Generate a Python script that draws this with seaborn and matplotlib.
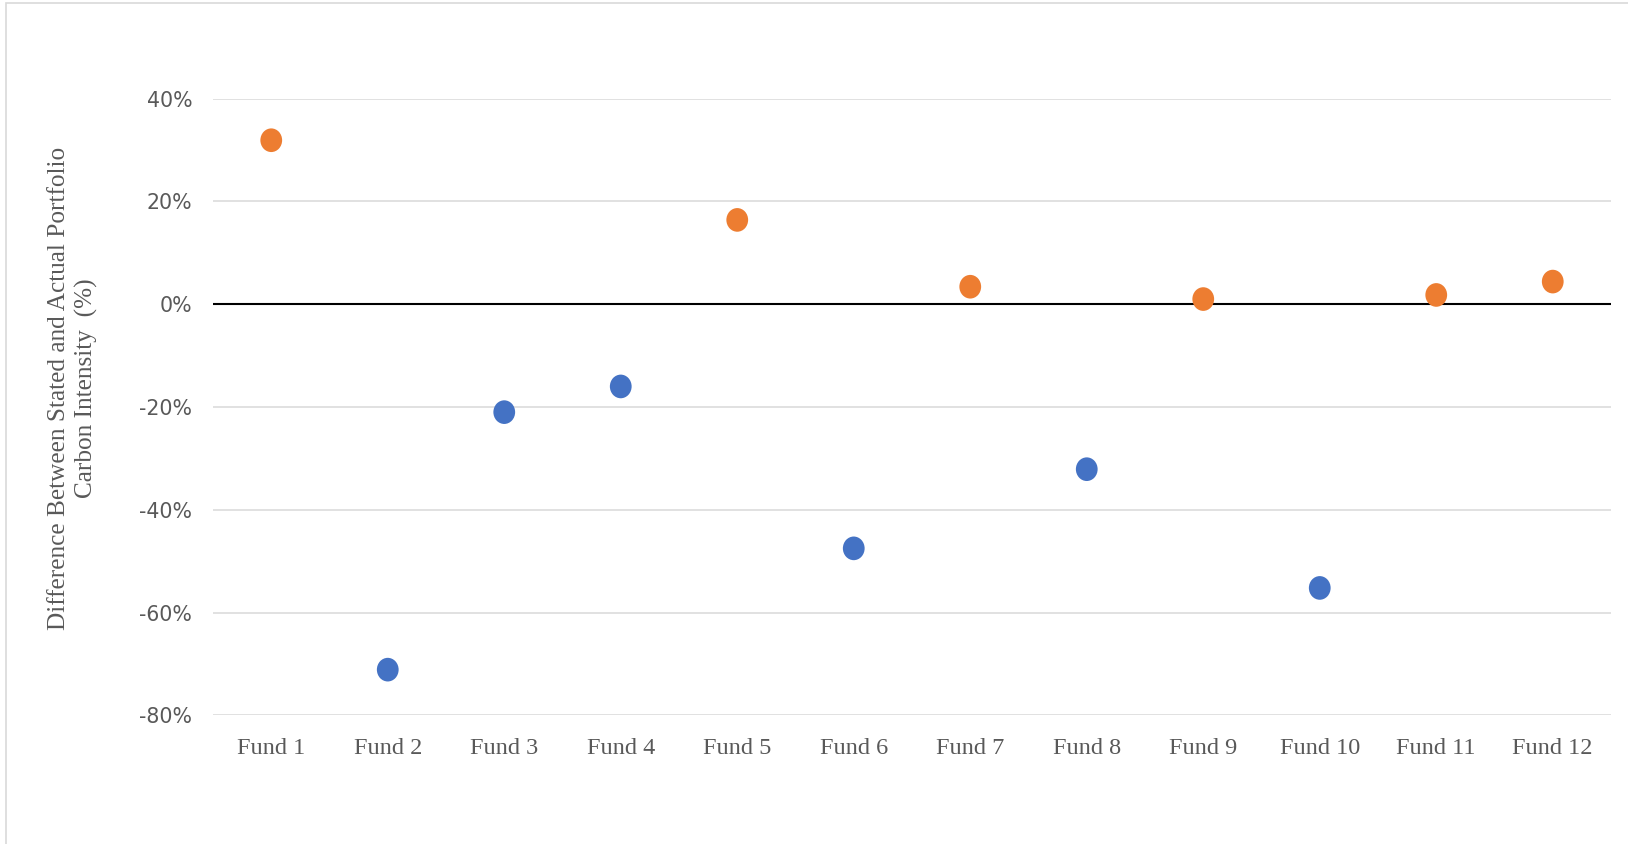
import numpy as np
import pandas as pd
import matplotlib
matplotlib.use("Agg")
import matplotlib.pyplot as plt
from matplotlib.patches import Rectangle
from matplotlib.path import Path
from matplotlib.transforms import Affine2D
import seaborn as sns

# Fund labels and difference between stated and actual carbon intensity (%)
funds = ["Fund 1", "Fund 2", "Fund 3", "Fund 4", "Fund 5", "Fund 6",
         "Fund 7", "Fund 8", "Fund 9", "Fund 10", "Fund 11", "Fund 12"]
difference = [31.9, -71.1, -21.0, -16.0, 16.4, -47.5,
              3.4, -32.1, 1.0, -55.2, 1.8, 4.4]
y_ticks = [-80, -60, -40, -20, 0, 20, 40]

df = pd.DataFrame({"fund": funds, "diff": difference})
df["sign"] = np.where(df["diff"] >= 0, "over", "under")

sns.set_theme(style="white")
plt.rcParams["font.family"] = ["DejaVu Sans"]

W, H, DPI = 1628, 844, 100
fig = plt.figure(figsize=(W / DPI, H / DPI), dpi=DPI)
ax = fig.add_axes([213 / W, 1 - 715.4 / H, (1611 - 213) / W, (715.4 - 98.6) / H])

# slightly tall elliptical dot
dot = Path.unit_circle().transformed(Affine2D().scale(0.92, 1.0))

sns.scatterplot(data=df, x="fund", y="diff", hue="sign",
                palette={"over": "#ED7D31", "under": "#4472C4"},
                marker=dot, s=290, linewidth=0, legend=False, ax=ax, zorder=3)

ax.set_xlim(-0.5, len(funds) - 0.5)
ax.set_ylim(-80, 40)
ax.set_yticks(y_ticks)
ax.set_yticklabels([f"{v}%" for v in y_ticks])
ax.yaxis.grid(True, color="#D9D9D9", linewidth=1.1)
ax.xaxis.grid(False)
ax.axhline(0, color="black", linewidth=1.5, zorder=2)
for sp in ax.spines.values():
    sp.set_visible(False)
ax.set_xlabel("")
ax.set_ylabel("")
ax.tick_params(axis="y", length=0, pad=15, labelsize=14.8, labelcolor="#595959")
ax.tick_params(axis="x", length=0, pad=16, labelsize=17.5, labelcolor="#595959")
for lab in ax.get_xticklabels():
    lab.set_family("Liberation Serif")

fig.text(73 / W, 1 - 388 / H,
         "Difference Between Stated and Actual Portfolio\nCarbon Intensity  (%)",
         rotation=90, ha="center", va="center", multialignment="center",
         family="Liberation Serif", fontsize=18.2, linespacing=1.3,
         color="#595959")

# chart area border
fig.patches.append(Rectangle((6 / W, -0.05), 1.1, 1 - 3 / H + 0.05,
                             transform=fig.transFigure, fill=False,
                             edgecolor="#D9D9D9", linewidth=1.2))

fig.savefig("out.png", dpi=DPI)
